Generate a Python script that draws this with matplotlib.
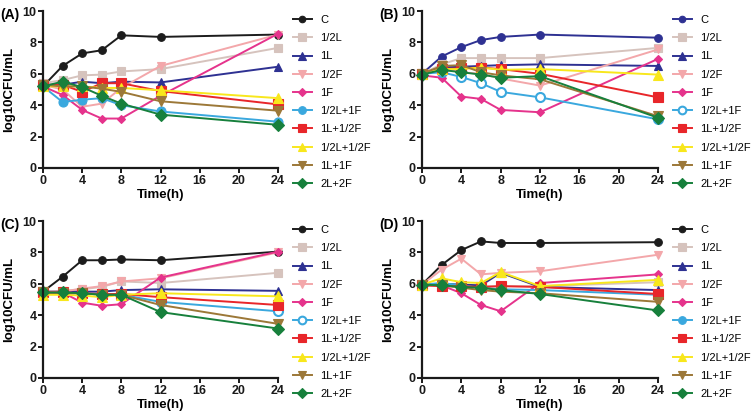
import matplotlib
matplotlib.use("Agg")
import matplotlib.pyplot as plt

plt.rcParams['font.family'] = ['Liberation Sans', 'DejaVu Sans']

time = [0, 2, 4, 6, 8, 12, 24]
labels = ["C", "1/2L", "1L", "1/2F", "1F", "1/2L+1F", "1L+1/2F", "1/2L+1/2F", "1L+1F", "2L+2F"]

panel_A = {
    "C":         [5.2, 6.5, 7.3, 7.5, 8.45, 8.35, 8.5],
    "1/2L":      [5.4, 5.6, 5.9, 5.95, 6.15, 6.3, 7.65],
    "1L":        [5.3, 5.3, 5.5, 5.4, 5.5, 5.45, 6.45],
    "1/2F":      [5.3, 5.0, 3.9, 4.1, 5.1, 6.5, 8.5],
    "1F":        [5.2, 4.65, 3.7, 3.15, 3.15, 4.6, 8.55],
    "1/2L+1F":   [5.2, 4.2, 4.35, 4.45, 4.0, 3.6, 2.95],
    "1L+1/2F":   [5.3, 5.3, 4.85, 5.4, 5.4, 4.9, 4.05],
    "1/2L+1/2F": [5.2, 5.2, 5.2, 5.1, 5.1, 4.95, 4.45],
    "1L+1F":     [5.3, 5.2, 5.2, 5.05, 4.85, 4.25, 3.65],
    "2L+2F":     [5.2, 5.5, 5.15, 4.6, 4.1, 3.4, 2.75],
}
panel_B = {
    "C":         [6.0, 7.1, 7.7, 8.15, 8.35, 8.5, 8.3],
    "1/2L":      [6.0, 6.6, 7.0, 7.0, 7.0, 7.0, 7.65],
    "1L":        [6.0, 6.4, 6.45, 6.5, 6.55, 6.6, 6.5],
    "1/2F":      [6.0, 6.3, 6.1, 6.0, 5.7, 5.25, 7.55],
    "1F":        [5.9, 5.75, 4.55, 4.4, 3.7, 3.55, 6.95],
    "1/2L+1F":   [6.0, 6.1, 5.8, 5.4, 4.85, 4.5, 3.1],
    "1L+1/2F":   [6.0, 6.3, 6.35, 6.4, 6.3, 6.0, 4.5],
    "1/2L+1/2F": [6.0, 6.3, 6.3, 6.4, 6.25, 6.3, 5.95],
    "1L+1F":     [6.0, 6.5, 6.55, 6.1, 5.9, 5.65, 3.3],
    "2L+2F":     [5.95, 6.25, 6.1, 5.95, 5.75, 5.85, 3.2],
}
panel_C = {
    "C":         [5.5, 6.45, 7.5, 7.5, 7.55, 7.5, 8.05],
    "1/2L":      [5.5, 5.55, 5.65, 5.8, 6.15, 6.05, 6.7],
    "1L":        [5.5, 5.5, 5.5, 5.5, 5.6, 5.65, 5.55],
    "1/2F":      [5.5, 5.5, 5.7, 5.85, 6.15, 6.35, 8.0],
    "1F":        [5.45, 5.45, 4.8, 4.6, 4.7, 6.4, 8.05],
    "1/2L+1F":   [5.4, 5.4, 5.4, 5.35, 5.3, 4.85, 4.25],
    "1L+1/2F":   [5.45, 5.45, 5.4, 5.35, 5.35, 5.15, 4.65],
    "1/2L+1/2F": [5.3, 5.3, 5.25, 5.15, 5.3, 5.4, 5.2],
    "1L+1F":     [5.45, 5.4, 5.4, 5.3, 5.3, 4.65, 3.45],
    "2L+2F":     [5.45, 5.45, 5.4, 5.3, 5.3, 4.2, 3.15],
}
panel_D = {
    "C":         [5.95, 7.2, 8.15, 8.7, 8.6, 8.6, 8.65],
    "1/2L":      [5.9, 5.9, 5.85, 5.85, 5.85, 5.85, 6.1],
    "1L":        [5.95, 6.0, 5.95, 5.9, 6.7, 5.8, 5.6],
    "1/2F":      [5.95, 6.9, 7.6, 6.6, 6.7, 6.8, 7.85],
    "1F":        [5.95, 5.9, 5.4, 4.65, 4.25, 6.05, 6.6],
    "1/2L+1F":   [5.95, 6.05, 5.9, 5.75, 5.65, 5.6, 5.3],
    "1L+1/2F":   [5.9, 5.85, 5.85, 5.8, 5.85, 5.8, 5.35],
    "1/2L+1/2F": [5.95, 6.35, 6.1, 6.05, 6.75, 5.85, 6.25],
    "1L+1F":     [5.95, 5.9, 5.75, 5.6, 5.5, 5.4, 4.85],
    "2L+2F":     [5.95, 5.9, 5.8, 5.75, 5.6, 5.35, 4.3],
}

colors = {
    "C": "#1c1c1c", "1/2L": "#d6c3bd", "1L": "#2e3192", "1/2F": "#f3a7aa",
    "1F": "#e5338c", "1/2L+1F": "#3aa8de", "1L+1/2F": "#e8262a",
    "1/2L+1/2F": "#f8e71c", "1L+1F": "#9c7838", "2L+2F": "#17803c",
}
markers = {
    "C": "o", "1/2L": "s", "1L": "^", "1/2F": "v", "1F": "D", "1/2L+1F": "o",
    "1L+1/2F": "s", "1/2L+1/2F": "^", "1L+1F": "v", "2L+2F": "D",
}
msizes = {"C": 5.5, "1/2L": 6, "1L": 6, "1/2F": 6, "1F": 4.5, "1/2L+1F": 6.5,
          "1L+1/2F": 7, "1/2L+1/2F": 7, "1L+1F": 7, "2L+2F": 6}

panels = [
    ("(A)", panel_A, [43, 11, 278, 168], "#1c1c1c", False),
    ("(B)", panel_B, [422, 11, 658, 168], "#2e3192", True),
    ("(C)", panel_C, [43, 221, 278, 378], "#1c1c1c", True),
    ("(D)", panel_D, [422, 221, 658, 378], "#1c1c1c", False),
]

W, H = 753, 417
fig = plt.figure(figsize=(W / 100, H / 100), dpi=100)

for tag, data, (x0, y0, x1, y1), c_color, open_circle in panels:
    ax = fig.add_axes([x0 / W, 1 - y1 / H, (x1 - x0) / W, (y1 - y0) / H])
    for lab in labels:
        col = c_color if lab == "C" else colors[lab]
        mfc = col
        if lab == "1/2L+1F" and open_circle:
            mfc = "white"
        ax.plot(time, data[lab], color=col, marker=markers[lab], markersize=msizes[lab],
                markerfacecolor=mfc, markeredgecolor=col, markeredgewidth=1.5 if mfc == "white" else 0.8,
                linewidth=1.4, label=lab, clip_on=False)
    ax.set_xlim(0, 24)
    ax.set_ylim(0, 10)
    ax.set_xticks([0, 4, 8, 12, 16, 20, 24])
    ax.set_yticks([0, 2, 4, 6, 8, 10])
    for s in ["top", "right"]:
        ax.spines[s].set_visible(False)
    for s in ["left", "bottom"]:
        ax.spines[s].set_linewidth(1.6)
        ax.spines[s].set_color("#1a1a1a")
    ax.tick_params(direction="out", length=3.5, width=1.4, labelsize=9, pad=1.2, colors="#1a1a1a")
    for t in ax.get_xticklabels() + ax.get_yticklabels():
        t.set_fontweight("bold")
    ax.set_xlabel("Time(h)", fontsize=9.5, fontweight="bold", labelpad=2)
    ax.set_ylabel("log10CFU/mL", fontsize=9.5, fontweight="bold", labelpad=5)
    fig.text((x0 - 43) / W, 1 - (y0 + 4) / H, tag, fontsize=10, fontweight="bold",
             ha="left", va="center")
    ax.legend(loc="upper left", bbox_to_anchor=((x1 + 15) / W, 1 - (y0 + 4) / H),
              bbox_transform=fig.transFigure, frameon=False, fontsize=8,
              handlelength=1.7, handletextpad=0.75, labelspacing=0.74, borderaxespad=0,
              borderpad=0, markerscale=0.85)

fig.savefig("out.png", dpi=100)
